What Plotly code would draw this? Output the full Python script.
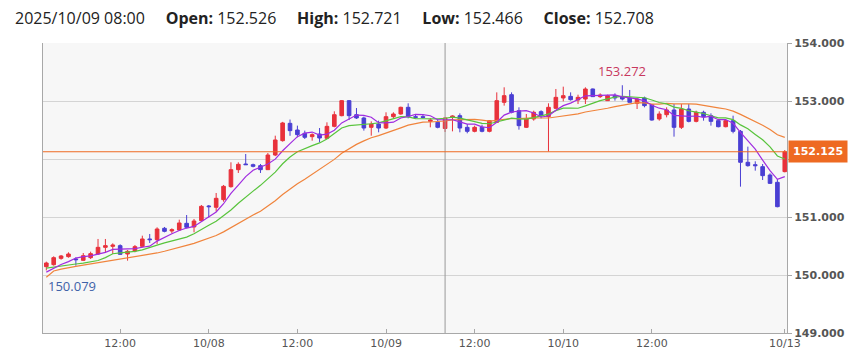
import pandas as pd
import plotly.graph_objects as go

# ---------------- data (hourly candles, JST) ----------------
times = list(pd.date_range("2025-10-07 02:00", "2025-10-11 05:00", freq="h")) + [pd.Timestamp("2025-10-13 07:00")]

opens = [150.144, 150.178, 150.287, 150.316, 150.276, 150.253, 150.299, 150.362, 150.477, 150.494,
         150.506, 150.362, 150.414, 150.494, 150.621, 150.609, 150.805, 150.759, 150.776, 150.891,
         150.828, 150.937, 151.190, 151.167, 151.299, 151.523, 151.816, 151.914, 151.902, 151.885,
         151.816, 152.069, 152.316, 152.615, 152.500, 152.443, 152.385, 152.431, 152.356, 152.563,
         152.747, 153.006, 152.764, 152.707, 152.546, 152.603, 152.534, 152.730, 152.776, 152.891,
         152.730, 152.730, 152.649, 152.632, 152.526, 152.718, 152.747, 152.546, 152.477, 152.546,
         152.477, 152.632, 152.977, 153.109, 152.833, 152.546, 152.690, 152.816, 152.730, 152.874,
         153.052, 153.080, 153.017, 153.034, 153.207, 153.075, 153.006, 153.092, 153.075, 153.052,
         152.960, 153.052, 152.937, 152.690, 152.764, 152.845, 152.546, 152.862, 152.649, 152.805,
         152.747, 152.661, 152.557, 152.661, 152.477, 151.943, 151.902, 151.868, 151.724, 151.598,
         151.782]
highs = [150.230, 150.322, 150.345, 150.391, 150.305, 150.379, 150.402, 150.621, 150.621, 150.546,
         150.529, 150.431, 150.517, 150.678, 150.707, 150.822, 150.828, 150.805, 150.954, 151.034,
         150.966, 151.207, 151.207, 151.414, 151.552, 151.943, 151.943, 152.086, 151.920, 151.914,
         152.103, 152.402, 152.640, 152.680, 152.575, 152.489, 152.443, 152.534, 152.632, 152.822,
         153.017, 153.017, 152.879, 152.730, 152.649, 152.661, 152.805, 152.805, 152.902, 152.960,
         152.776, 152.776, 152.707, 152.672, 152.721, 152.753, 152.787, 152.603, 152.575, 152.592,
         152.672, 153.149, 153.236, 153.149, 152.891, 152.776, 152.833, 152.840, 152.960, 153.207,
         153.247, 153.149, 153.109, 153.236, 153.215, 153.132, 153.109, 153.132, 153.272, 153.190,
         153.052, 153.075, 152.948, 152.822, 152.891, 152.948, 152.948, 152.948, 152.833, 152.833,
         152.787, 152.672, 152.672, 152.747, 152.500, 152.213, 151.960, 151.914, 151.753, 151.655,
         152.155]
lows = [150.079, 150.161, 150.264, 150.299, 150.161, 150.241, 150.276, 150.345, 150.391, 150.362,
        150.345, 150.247, 150.391, 150.477, 150.552, 150.534, 150.736, 150.718, 150.759, 150.805,
        150.736, 150.920, 150.994, 151.092, 151.264, 151.506, 151.759, 151.897, 151.856, 151.759,
        151.810, 152.050, 152.300, 152.400, 152.374, 152.345, 152.316, 152.287, 152.345, 152.546,
        152.736, 152.672, 152.690, 152.489, 152.402, 152.460, 152.517, 152.707, 152.764, 152.701,
        152.700, 152.700, 152.546, 152.529, 152.466, 152.477, 152.460, 152.443, 152.460, 152.460,
        152.460, 152.621, 152.920, 152.787, 152.506, 152.534, 152.661, 152.700, 152.130, 152.862,
        152.994, 153.006, 152.948, 152.948, 153.070, 153.052, 153.000, 153.006, 153.010, 152.977,
        152.862, 152.891, 152.661, 152.661, 152.718, 152.385, 152.517, 152.632, 152.632, 152.661,
        152.575, 152.546, 152.546, 152.443, 151.523, 151.868, 151.799, 151.638, 151.570, 151.167,
        151.770]
closes = [150.207, 150.299, 150.328, 150.362, 150.264, 150.333, 150.368, 150.477, 150.506, 150.517,
          150.356, 150.408, 150.489, 150.621, 150.609, 150.793, 150.753, 150.782, 150.897, 150.822,
          150.931, 151.184, 151.178, 151.322, 151.529, 151.816, 151.908, 151.902, 151.874, 151.816,
          152.069, 152.328, 152.621, 152.489, 152.420, 152.374, 152.420, 152.362, 152.563, 152.764,
          153.006, 152.747, 152.707, 152.534, 152.603, 152.534, 152.730, 152.776, 152.891, 152.730,
          152.718, 152.718, 152.672, 152.546, 152.708, 152.741, 152.534, 152.477, 152.546, 152.477,
          152.661, 153.006, 153.092, 152.805, 152.575, 152.690, 152.805, 152.747, 152.891, 153.063,
          153.092, 153.023, 153.063, 153.207, 153.075, 153.103, 153.092, 153.052, 153.034, 152.977,
          153.034, 152.920, 152.672, 152.776, 152.845, 152.546, 152.862, 152.649, 152.805, 152.730,
          152.649, 152.557, 152.661, 152.477, 151.943, 151.885, 151.885, 151.713, 151.580, 151.178,
          152.125]

# moving-average values before the full window is available
ma5_head = [150.05, 150.12, 150.18, 150.23]
ma10_head = [150.12, 150.14, 150.16, 150.175, 150.19, 150.205, 150.225, 150.25, 150.30]
ma20_head = [149.96, 150.07, 150.10, 150.13, 150.15, 150.17, 150.19, 150.21, 150.23, 150.25,
             150.27, 150.29, 150.31, 150.33, 150.35, 150.38, 150.41, 150.44, 150.47]

last_price = 152.125
cursor_time = pd.Timestamp("2025-10-09 08:00")
y_ticks = [149, 150, 151, 152, 153, 154]

# ---------------- styling ----------------
RED = "#e8313b"
BLUE = "#4a3fd3"
C_MA5 = "#a02ce0"
C_MA10 = "#58c43c"
C_MA20 = "#f0843c"
PRICE_COL = "#ee6a22"
GRID = "#d4d4d4"
AXIS = "#a8a8a8"
TXT = "#555555"

xs = list(range(len(times)))
s = pd.Series(closes)


def sma(n, head):
    r = s.rolling(n).mean().tolist()
    return head + r[len(head):]


ma5 = sma(5, ma5_head)
ma10 = sma(10, ma10_head)
ma20 = sma(20, ma20_head)

# tick labels: day changes and noon, dropping crowded ones
cands = []
for i, t in enumerate(times):
    if i > 0 and t.date() != times[i - 1].date():
        cands.append((i, t.strftime("%m/%d")))
    elif t.hour == 12:
        cands.append((i, "12:00"))
ticks = []
for k, (i, lab) in enumerate(cands):
    if k + 1 < len(cands) and cands[k + 1][0] - i < 9:
        continue
    ticks.append((i, lab))

# y labels hidden where the last-price box covers them
y_text = ["" if abs(v - last_price) < 0.3 else f"{v:.3f}" for v in y_ticks]

fig = go.Figure()
fig.add_trace(go.Candlestick(
    x=xs, open=opens, high=highs, low=lows, close=closes,
    increasing=dict(line=dict(color=RED, width=1), fillcolor=RED),
    decreasing=dict(line=dict(color=BLUE, width=1), fillcolor=BLUE),
    whiskerwidth=0, showlegend=False, hoverinfo="skip"))
for vals, col in [(ma20, C_MA20), (ma10, C_MA10), (ma5, C_MA5)]:
    fig.add_trace(go.Scatter(x=xs, y=vals, mode="lines", line=dict(color=col, width=1.2),
                             showlegend=False, hoverinfo="skip"))

ci = times.index(cursor_time)
fig.add_shape(type="line", xref="x", yref="paper", x0=ci, x1=ci, y0=0, y1=1,
              line=dict(color="#9a9a9a", width=1))
fig.add_shape(type="line", xref="paper", yref="y", x0=0, x1=1, y0=last_price, y1=last_price,
              line=dict(color=PRICE_COL, width=1))

imax = max(range(len(highs)), key=lambda i: highs[i])
imin = min(range(len(lows)), key=lambda i: lows[i])
fig.add_annotation(x=imax, y=highs[imax], text=f"{highs[imax]:.3f}", showarrow=False,
                   yanchor="bottom", yshift=3, font=dict(family="Open Sans", size=13, color="#c8385e"))
fig.add_annotation(x=imin, y=lows[imin], text=f"{lows[imin]:.3f}", showarrow=False,
                   xanchor="left", yanchor="top", yshift=-5,
                   font=dict(family="Open Sans", size=13, color="#3f62a8"))

fig.add_annotation(xref="paper", yref="y", x=1, y=last_price, xanchor="left", xshift=1,
                   text=f"<b>{last_price:.3f}</b>", showarrow=False, bgcolor=PRICE_COL,
                   borderpad=4, font=dict(family="DejaVu Sans", size=11, color="white"))

sp = "&nbsp;" * 5
header = (f"{cursor_time.strftime('%Y/%m/%d %H:%M')}{sp}<b>Open:</b> {opens[ci]:.3f}{sp}"
          f"<b>High:</b> {highs[ci]:.3f}{sp}<b>Low:</b> {lows[ci]:.3f}{sp}<b>Close:</b> {closes[ci]:.3f}")
fig.add_annotation(xref="paper", yref="paper", x=0, y=1, xanchor="left", yanchor="middle",
                   xshift=-30, yshift=25, text=header, showarrow=False,
                   font=dict(family="Open Sans", size=16, color="#222222"))

fig.update_layout(
    width=861, height=361, autosize=False,
    margin=dict(l=43, r=74, t=43, b=28),
    paper_bgcolor="white", plot_bgcolor="#f7f7f7",
    xaxis=dict(range=[-0.45, 100.3], rangeslider=dict(visible=False), showgrid=False,
               zeroline=False, showline=True, linecolor=AXIS, linewidth=1,
               tickvals=[t[0] for t in ticks], ticktext=[t[1] for t in ticks],
               ticks="inside", ticklen=4, tickcolor=AXIS,
               tickfont=dict(family="DejaVu Sans", size=11, color=TXT)),
    yaxis=dict(side="right", range=[149, 154], tickvals=y_ticks,
               ticktext=y_text, showgrid=True, gridcolor=GRID,
               zeroline=False, showline=True, linecolor=AXIS, linewidth=1, mirror=True,
               ticks="outside", ticklen=4, tickcolor=AXIS,
               tickfont=dict(family="DejaVu Sans", size=11, color=TXT, weight="bold")),
)

fig.write_html("out.html", config={"displayModeBar": False, "staticPlot": True},
               post_script="document.body.style.margin='0px';document.body.style.overflow='hidden';")
